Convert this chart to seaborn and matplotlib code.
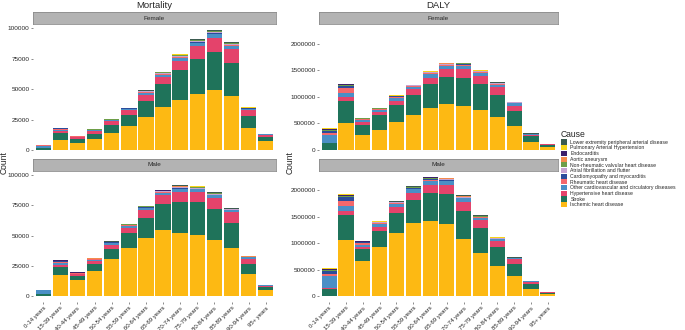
import numpy as np
import pandas as pd
import matplotlib
matplotlib.use("Agg")
import matplotlib.pyplot as plt
from matplotlib.ticker import MultipleLocator, FuncFormatter
from matplotlib.patches import Patch
import seaborn as sns

# ------------------------------------------------------------
# data
# ------------------------------------------------------------

ages = ["0-14 years", "15-39 years", "40-44 years", "45-49 years",
        "50-54 years", "55-59 years", "60-64 years", "65-69 years",
        "70-74 years", "75-79 years", "80-84 years", "85-89 years",
        "90-94 years", "95+ years"]

# stacking order, bottom -> top
stack_causes = [
    "Ischemic heart disease",
    "Stroke",
    "Hypertensive heart disease",
    "Other cardiovascular and circulatory diseases",
    "Rheumatic heart disease",
    "Cardiomyopathy and myocarditis",
    "Atrial fibrillation and flutter",
    "Non-rheumatic valvular heart disease",
    "Aortic aneurysm",
    "Endocarditis",
    "Pulmonary Arterial Hypertension",
    "Lower extremity peripheral arterial disease",
]

cause_colors = ["#FDB913", "#1F735A", "#E4436B", "#4A8FC6", "#F4686C",
                "#2B4C9B", "#C7A3D1", "#6E9E48", "#F58B4C", "#3D1F6B",
                "#F7D417", "#3B5B50"]

# rows follow stack_causes
mort_female = [
    [200, 8100, 5400, 8900, 14000, 19400, 27000, 35100, 41000, 46000, 49100, 44600, 18100, 7300],
    [1200, 5900, 3800, 4600, 6500, 9500, 13500, 18900, 24400, 28300, 31100, 26700, 9500, 3500],
    [200, 1700, 1300, 1900, 3000, 3500, 4900, 6000, 7800, 11000, 12000, 11600, 5400, 1400],
    [2000, 1000, 400, 700, 800, 1000, 1500, 1500, 2000, 2300, 2700, 2400, 800, 600],
    [100, 700, 200, 300, 300, 400, 500, 600, 700, 500, 500, 400, 150, 50],
    [200, 400, 150, 200, 200, 250, 300, 400, 400, 300, 300, 250, 100, 50],
    [0, 100, 50, 100, 100, 150, 300, 500, 700, 800, 1000, 1000, 400, 200],
    [50, 150, 70, 150, 150, 250, 350, 550, 700, 600, 700, 500, 180, 100],
    [0, 50, 30, 50, 50, 60, 80, 100, 120, 100, 100, 60, 20, 0],
    [50, 100, 50, 50, 50, 50, 100, 100, 100, 100, 100, 100, 50, 0],
    [100, 200, 100, 100, 100, 150, 200, 300, 400, 300, 300, 300, 150, 100],
    [0, 0, 0, 0, 50, 50, 100, 200, 300, 400, 500, 400, 100, 100],
]

mort_male = [
    [200, 17700, 13100, 21000, 30800, 40000, 47700, 54500, 52300, 50400, 46300, 39500, 18300, 5400],
    [1200, 6300, 3800, 5700, 8200, 12300, 16900, 21800, 25400, 27300, 25400, 21000, 8400, 2200],
    [200, 1600, 1000, 2200, 3200, 4100, 6300, 7100, 8100, 8100, 9500, 9000, 4100, 900],
    [3000, 2000, 700, 1200, 1400, 1500, 1700, 1900, 2500, 2300, 2000, 1300, 1200, 500],
    [100, 700, 250, 300, 400, 400, 400, 400, 400, 400, 300, 200, 100, 50],
    [300, 700, 300, 300, 400, 400, 400, 400, 400, 300, 300, 200, 100, 50],
    [0, 100, 100, 100, 150, 200, 300, 400, 600, 700, 700, 500, 300, 100],
    [50, 150, 100, 150, 200, 250, 350, 500, 700, 650, 500, 300, 150, 70],
    [30, 100, 80, 100, 150, 150, 200, 200, 200, 200, 150, 80, 40, 20],
    [50, 100, 50, 50, 50, 50, 100, 100, 100, 100, 100, 50, 0, 0],
    [200, 300, 100, 100, 100, 100, 100, 200, 200, 200, 200, 100, 100, 100],
    [0, 100, 50, 100, 100, 100, 200, 300, 500, 500, 400, 300, 200, 100],
]

daly_female = [
    [5000, 514000, 279000, 384000, 526000, 650000, 793000, 867000, 836000, 743000, 619000, 446000, 142000, 50000],
    [125000, 415000, 198000, 266000, 322000, 384000, 445000, 508000, 514000, 495000, 415000, 285000, 118000, 49000],
    [10000, 61000, 43000, 62000, 81000, 105000, 124000, 142000, 180000, 155000, 155000, 105000, 31000, 6000],
    [144000, 75000, 37000, 43000, 50000, 50000, 60000, 60000, 55000, 55000, 40000, 40000, 10000, 3000],
    [30000, 100000, 20000, 15000, 20000, 15000, 20000, 20000, 15000, 12000, 8000, 5000, 1000, 300],
    [50000, 40000, 12000, 7000, 10000, 8000, 10000, 10000, 8000, 6000, 4000, 3000, 1000, 200],
    [1000, 5000, 2000, 3000, 5000, 5000, 8000, 10000, 12000, 14000, 12000, 10000, 3000, 1000],
    [5000, 8000, 2000, 3000, 4000, 4000, 6000, 8000, 7000, 7000, 5000, 4000, 1000, 500],
    [2000, 5000, 2000, 2000, 3000, 3000, 4000, 5000, 5000, 4000, 3000, 2000, 500, 100],
    [20000, 10000, 3000, 2000, 2000, 2000, 2000, 2000, 2000, 1000, 1000, 1000, 200, 100],
    [20000, 15000, 4000, 3000, 3000, 3000, 4000, 4000, 4000, 4000, 3000, 2000, 1000, 500],
    [0, 2000, 1000, 1000, 1000, 2000, 3000, 4000, 5000, 6000, 5000, 5000, 2000, 1000],
]

daly_male = [
    [5000, 1059000, 673000, 922000, 1196000, 1383000, 1414000, 1358000, 1072000, 810000, 573000, 386000, 137000, 31000],
    [132000, 468000, 212000, 312000, 374000, 436000, 530000, 574000, 548000, 480000, 362000, 225000, 100000, 31000],
    [20000, 93000, 50000, 74000, 112000, 131000, 162000, 174000, 168000, 143000, 105000, 87000, 31000, 6000],
    [230000, 94000, 40000, 50000, 60000, 70000, 75000, 65000, 60000, 50000, 40000, 15000, 10000, 3000],
    [40000, 93000, 25000, 20000, 15000, 15000, 20000, 15000, 10000, 6000, 4000, 2000, 500, 200],
    [55000, 60000, 20000, 15000, 12000, 12000, 12000, 10000, 8000, 5000, 4000, 2000, 500, 200],
    [1000, 10000, 4000, 5000, 6000, 8000, 12000, 12000, 12000, 12000, 10000, 5000, 2000, 500],
    [5000, 10000, 3000, 4000, 4000, 5000, 7000, 7000, 6000, 5000, 4000, 2000, 1000, 300],
    [3000, 15000, 6000, 7000, 7000, 10000, 12000, 12000, 10000, 7000, 5000, 2000, 500, 100],
    [20000, 15000, 3000, 2000, 2000, 2000, 2000, 2000, 1000, 1000, 1000, 500, 200, 100],
    [15000, 10000, 3000, 3000, 3000, 3000, 3000, 3000, 2000, 2000, 2000, 1000, 1000, 500],
    [0, 3000, 1000, 2000, 3000, 5000, 7000, 8000, 8000, 7000, 6000, 3000, 2000, 1000],
]

# ------------------------------------------------------------
# long table
# ------------------------------------------------------------

def to_long(rows, measure, sex):
    recs = []
    for cause, vals in zip(stack_causes, rows):
        for age, v in zip(ages, vals):
            recs.append((measure, sex, cause, age, v))
    return recs

records = (to_long(mort_female, "Mortality", "Female")
           + to_long(mort_male, "Mortality", "Male")
           + to_long(daly_female, "DALY", "Female")
           + to_long(daly_male, "DALY", "Male"))

df = pd.DataFrame(records, columns=["measure", "sex", "cause", "age", "value"])
df["age"] = pd.Categorical(df["age"], categories=ages, ordered=True)

legend_causes = stack_causes[::-1]
palette = dict(zip(stack_causes, cause_colors))

# ------------------------------------------------------------
# figure
# ------------------------------------------------------------

sns.set_style("white")
plt.rcParams["font.family"] = ["Liberation Sans", "DejaVu Sans"]

W, H = 685, 330
fig = plt.figure(figsize=(W / 100, H / 100), dpi=100)


def px_axes(x1, y1, x2, y2):
    return fig.add_axes([x1 / W, 1 - y2 / H, (x2 - x1) / W, (y2 - y1) / H])


columns = {
    "Mortality": (33, 276, 25000),
    "DALY": (319, 558, 500000),
}
rows = {
    "Female": (12, 24, 156),
    "Male": (159, 171, 302),
}

for measure, (x1, x2, step) in columns.items():
    ymax = df[df.measure == measure].groupby(["sex", "age"], observed=True)["value"].sum().max()

    for sex, (s_top, p_top, p_bot) in rows.items():
        ax = px_axes(x1, p_top, x2, p_bot)
        sub = df[(df.measure == measure) & (df.sex == sex)]

        sns.histplot(
            data=sub,
            x="age",
            hue="cause",
            weights="value",
            multiple="stack",
            hue_order=legend_causes,
            palette=palette,
            discrete=True,
            shrink=0.9,
            alpha=1,
            linewidth=0,
            legend=False,
            ax=ax,
        )

        ax.set_xlim(-0.6, len(ages) - 0.4)
        ax.set_ylim(-0.05 * ymax, 1.05 * ymax)
        ax.yaxis.set_major_locator(MultipleLocator(step))
        ax.yaxis.set_major_formatter(FuncFormatter(lambda v, p: f"{int(round(v))}"))
        ax.set_xlabel("")
        ax.set_ylabel("")
        for sp in ax.spines.values():
            sp.set_visible(False)
        ax.tick_params(axis="y", labelsize=4.6, length=1.5, width=0.4,
                       color="#333333", pad=1, left=True)
        ax.set_xticks(range(len(ages)))
        if sex == "Male":
            ax.set_xticklabels(ages, rotation=45, ha="right",
                               rotation_mode="anchor", fontsize=4.3)
            ax.tick_params(axis="x", length=1.5, width=0.4,
                           color="#333333", pad=1, bottom=True)
        else:
            ax.set_xticklabels([])
            ax.tick_params(axis="x", length=0)

        # facet strip
        st = px_axes(x1, s_top, x2, p_top)
        st.set_facecolor("#B3B3B3")
        st.set_xticks([])
        st.set_yticks([])
        for sp in st.spines.values():
            sp.set_color("#8C8C8C")
            sp.set_linewidth(0.6)
        st.text(0.5, 0.5, sex, ha="center", va="center", fontsize=4.6,
                transform=st.transAxes)

    # column title + y label
    fig.text((x1 + x2) / 2 / W, 1 - 5 / H, measure, ha="center",
             va="center", fontsize=6.8)
    fig.text((x1 - 29) / W, 1 - 163 / H, "Count", rotation=90,
             ha="center", va="center", fontsize=6.2)

# legend
handles = [Patch(facecolor=palette[c], edgecolor="none") for c in legend_causes]
leg = fig.legend(
    handles,
    legend_causes,
    title="Cause",
    loc="upper left",
    bbox_to_anchor=(559 / W, 1 - 128 / H),
    frameon=False,
    fontsize=3.7,
    title_fontsize=6.2,
    handlelength=1.2,
    handleheight=1.15,
    handletextpad=0.6,
    labelspacing=0.08,
    borderaxespad=0,
)
leg._legend_box.align = "left"

fig.savefig("out.png", dpi=100, facecolor="white")
